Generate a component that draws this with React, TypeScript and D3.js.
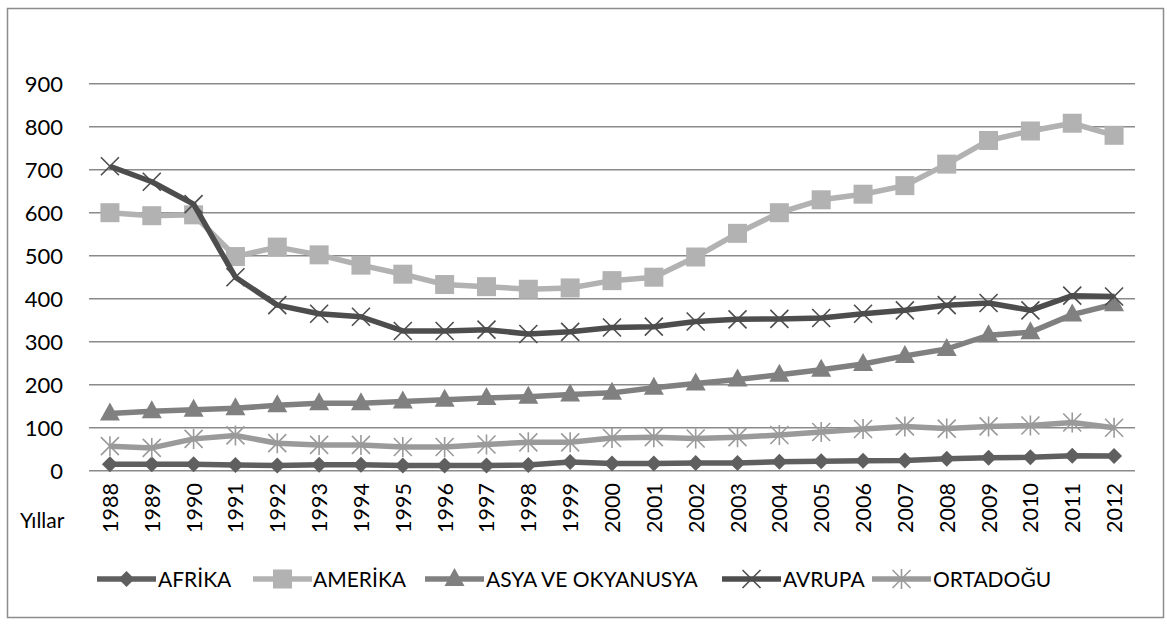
import React from "react";
import * as d3 from "d3";

const years = ["1988","1989","1990","1991","1992","1993","1994","1995","1996","1997","1998","1999","2000","2001","2002","2003","2004","2005","2006","2007","2008","2009","2010","2011","2012"];
const afrika = [15,15,15,13,12,14,14,12,12,12,13,20,17,17,18,18,21,22,23,24,28,30,31,35,34];
const amerika = [600,593,595,498,520,502,478,457,433,428,422,425,442,450,497,552,600,630,643,663,713,768,790,808,780];
const asya = [133,138,142,145,152,157,157,161,165,169,172,177,181,193,203,212,223,235,248,267,283,315,322,363,387];
const avrupa = [708,672,620,450,385,365,358,325,325,328,318,323,333,335,347,352,353,355,365,373,385,390,373,407,405];
const ortadogu = [57,53,74,82,64,60,60,55,55,61,66,66,76,78,75,78,83,90,97,103,98,103,105,112,100];
const yTicks = [0,100,200,300,400,500,600,700,800,900];

const series = [
  { name: "AFRİKA", values: afrika, color: "#5f5f5f", marker: "diamond" },
  { name: "AMERİKA", values: amerika, color: "#b2b2b2", marker: "square" },
  { name: "ASYA VE OKYANUSYA", values: asya, color: "#808080", marker: "triangle" },
  { name: "AVRUPA", values: avrupa, color: "#4d4d4d", marker: "x" },
  { name: "ORTADOĞU", values: ortadogu, color: "#9a9a9a", marker: "star" },
];

const FONT = "Lato, 'Open Sans', sans-serif";

function Marker({ type, x, y, color }: { type: string; x: number; y: number; color: string }) {
  if (type === "diamond") {
    const s = 8;
    return <path d={`M${x},${y - s}L${x + s},${y}L${x},${y + s}L${x - s},${y}Z`} fill={color} />;
  }
  if (type === "square") {
    const s = 9.5;
    return <rect x={x - s} y={y - s} width={2 * s} height={2 * s} fill={color} />;
  }
  if (type === "triangle") {
    return <path d={`M${x},${y - 11}L${x + 10},${y + 7}L${x - 10},${y + 7}Z`} fill={color} />;
  }
  if (type === "x") {
    const s = 9;
    return <path d={`M${x - s},${y - s}L${x + s},${y + s}M${x - s},${y + s}L${x + s},${y - s}`} stroke={color} strokeWidth={1.6} fill="none" />;
  }
  const s = 9;
  return (
    <path
      d={`M${x - s},${y - s}L${x + s},${y + s}M${x - s},${y + s}L${x + s},${y - s}M${x},${y - s - 1}L${x},${y + s + 1}`}
      stroke={color}
      strokeWidth={1.6}
      fill="none"
    />
  );
}

export default function App() {
  const W = 1167, H = 625;
  const left = 89, right = 1135, top = 83.7, bottom = 470.7;
  const x = d3.scaleBand<string>().domain(years).range([left, right]);
  const y = d3.scaleLinear().domain([0, 900]).range([bottom, top]);
  const cx = (yr: string) => (x(yr) as number) + x.bandwidth() / 2;
  const line = d3.line<number>().x((_, i) => cx(years[i])).y((d) => y(d));

  const legendPos = [
    { lx: 97, tx: 158 },
    { lx: 253, tx: 313 },
    { lx: 425, tx: 486 },
    { lx: 722, tx: 783 },
    { lx: 872, tx: 933 },
  ];

  return (
    <svg width={W} height={H} style={{ position: "absolute", left: 0, top: 0 }} fontFamily={FONT}>
      <rect x={0} y={0} width={W} height={H} fill="#fff" />
      <rect x={7.5} y={8.5} width={1156} height={609} fill="none" stroke="#8c8c8c" strokeWidth={1.5} />
      {yTicks.map((t) => (
        <g key={t}>
          <line x1={left} x2={right} y1={y(t)} y2={y(t)} stroke="#8a8a8a" strokeWidth={1.5} />
          <text x={63} y={y(t)} dy="0.36em" textAnchor="end" fontSize={22} fill="#000">{t}</text>
        </g>
      ))}
      {years.map((yr) => (
        <text key={yr} transform={`translate(${cx(yr) + 8},${483}) rotate(-90)`} textAnchor="end" fontSize={21.5} fill="#000">{yr}</text>
      ))}
      <text x={20} y={528} fontSize={21} fill="#000">Yıllar</text>
      {series.map((s) => (
        <g key={s.name}>
          <path d={line(s.values) || ""} fill="none" stroke={s.color} strokeWidth={5.5} strokeLinejoin="round" />
          {s.values.map((v, i) => (
            <Marker key={i} type={s.marker} x={cx(years[i])} y={y(v)} color={s.color} />
          ))}
        </g>
      ))}
      {series.map((s, i) => {
        const p = legendPos[i];
        return (
          <g key={s.name}>
            <line x1={p.lx} x2={p.lx + 59} y1={579} y2={579} stroke={s.color} strokeWidth={5.5} />
            <Marker type={s.marker} x={p.lx + 29.5} y={579} color={s.color} />
            <text x={p.tx} y={579} dy="0.36em" fontSize={21} fill="#000">{s.name}</text>
          </g>
        );
      })}
    </svg>
  );
}
